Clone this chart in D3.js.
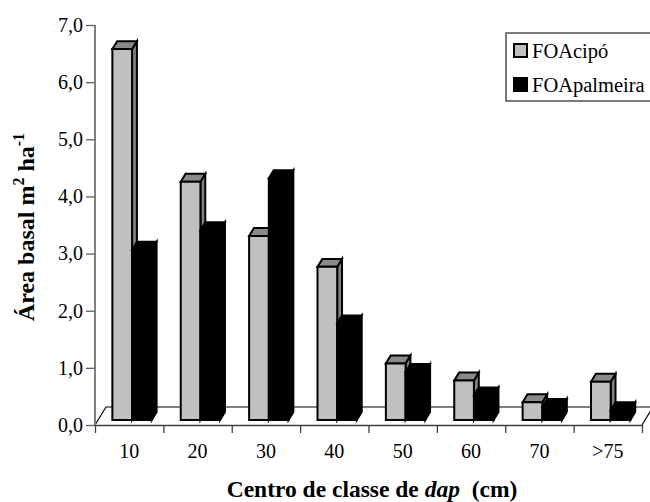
<!DOCTYPE html>
<html>
<head>
<meta charset="utf-8">
<script src="https://cdn.jsdelivr.net/npm/d3@7"></script>
<style>
  html, body { margin: 0; padding: 0; background: #fff; }
  svg { display: block; font-family: "Liberation Serif", "Times New Roman", serif; }
</style>
</head>
<body>
<svg id="chart" width="650" height="502"></svg>
<script>
// Centros de classe de DAP e área basal (m² ha⁻¹) por formação
const categories = ["10", "20", "30", "40", "50", "60", "70", ">75"];
const seriesNames = ["FOAcipó", "FOApalmeira"];
const foacipo = [6.49, 4.17, 3.22, 2.68, 0.99, 0.69, 0.31, 0.67];
const foapalmeira = [2.98, 3.32, 4.23, 1.69, 0.84, 0.43, 0.23, 0.17];
const yTicks = [0, 1, 2, 3, 4, 5, 6, 7];

const svg = d3.select("#chart");

// Plot frame (front plane of the floor) and oblique depth of the floor
const plotLeft = 95, plotRight = 642, plotTop = 25, plotBottom = 425;
const DX = 11, DY = 18;            // floor depth offset (x right, y up)
const zFront = 0.28, zBack = 0.72; // depth span occupied by the columns

const x = d3.scaleBand().domain(categories).range([plotLeft, plotRight]);
const y = d3.scaleLinear().domain([0, 7]).range([plotBottom, plotTop]);
const bw = x.bandwidth();

// project a point on the (x, value) plane at relative depth z
const P = (px, v, z) => [px + z * DX, y(v) - z * DY];

const locale = d3.formatLocale({ decimal: ",", thousands: ".", grouping: [3], currency: ["R$", ""] });
const fmt = locale.format(".1f");

// Floor outline
const floor = svg.append("g");
floor.append("path")
  .attr("d", d3.line()([P(plotLeft, 0, 0), P(plotLeft, 0, 1), P(plotRight, 0, 1), P(plotRight, 0, 0)]))
  .attr("fill", "none").attr("stroke", "#000").attr("stroke-width", 1.2);

// Columns
const series = [
  { name: seriesNames[0], values: foacipo, x0: 0.209, x1: 0.497, front: "#c0c0c0", topc: "#8a8a8a", side: "#808080" },
  { name: seriesNames[1], values: foapalmeira, x0: 0.497, x1: 0.785, front: "#000", topc: "#000", side: "#000" }
];

const line = d3.line();
const bars = svg.append("g").attr("stroke", "#000").attr("stroke-width", 2).attr("stroke-linejoin", "miter");

categories.forEach((c, i) => {
  series.forEach(s => {
    const v = s.values[i];
    const xl = x(c) + s.x0 * bw, xr = x(c) + s.x1 * bw;
    const g = bars.append("g");
    // right side face
    g.append("path").attr("fill", s.side)
      .attr("d", line([P(xr, 0, zFront), P(xr, 0, zBack), P(xr, v, zBack), P(xr, v, zFront)]) + "Z");
    // top face
    g.append("path").attr("fill", s.topc)
      .attr("d", line([P(xl, v, zFront), P(xl, v, zBack), P(xr, v, zBack), P(xr, v, zFront)]) + "Z");
    // front face
    g.append("path").attr("fill", s.front)
      .attr("d", line([P(xl, 0, zFront), P(xl, v, zFront), P(xr, v, zFront), P(xr, 0, zFront)]) + "Z");
  });
});

// Value axis
const yAxis = svg.append("g")
  .attr("transform", `translate(${plotLeft},0)`)
  .call(d3.axisLeft(y).tickValues(yTicks).tickFormat(fmt).tickSize(9).tickPadding(3));
yAxis.select(".domain").attr("stroke", "#808080").attr("stroke-width", 2).attr("d", `M0,${plotTop}V${plotBottom}`);
yAxis.selectAll(".tick line").attr("stroke", "#606060").attr("stroke-width", 1.3);
yAxis.selectAll(".tick text")
  .attr("font-family", "Liberation Serif, Times New Roman, serif")
  .attr("font-size", 20).attr("fill", "#000");

// Category axis: boundary ticks and centred labels
const xIdx = d3.scaleLinear().domain([0, categories.length]).range([plotLeft, plotRight]);
const xAxisG = svg.append("g").attr("transform", `translate(0,${plotBottom})`);
xAxisG.call(d3.axisBottom(xIdx).tickValues(d3.range(0, categories.length + 1)).tickFormat("").tickSize(8).tickSizeOuter(0));
xAxisG.select(".domain").attr("stroke", "#404040").attr("stroke-width", 1.6);
xAxisG.selectAll(".tick line").attr("stroke", "#404040").attr("stroke-width", 1.3);

const xLabels = svg.append("g").attr("transform", `translate(0,${plotBottom})`);
xLabels.call(d3.axisBottom(x).tickSize(0).tickPadding(19));
xLabels.select(".domain").remove();
xLabels.selectAll(".tick text")
  .attr("font-family", "Liberation Serif, Times New Roman, serif")
  .attr("font-size", 20).attr("fill", "#000");

// Axis titles
const yTitle = svg.append("text")
  .attr("transform", "translate(34,227) rotate(-90)")
  .attr("text-anchor", "middle")
  .attr("font-weight", "bold").attr("font-size", 24);
yTitle.append("tspan").text("Área basal m");
yTitle.append("tspan").attr("font-size", 16).attr("dy", -10).text("2");
yTitle.append("tspan").attr("dy", 10).text(" ha");
yTitle.append("tspan").attr("font-size", 16).attr("dy", -10).text("-1");

const xTitle = svg.append("text")
  .attr("x", 372).attr("y", 497)
  .attr("text-anchor", "middle")
  .attr("font-weight", "bold").attr("font-size", 23.5)
  .attr("xml:space", "preserve");
xTitle.append("tspan").text("Centro de classe de ");
xTitle.append("tspan").attr("font-style", "italic").text("dap");
xTitle.append("tspan").text("  (cm)");

// Legend
const legend = svg.append("g");
legend.append("rect")
  .attr("x", 506).attr("y", 33).attr("width", 160).attr("height", 68)
  .attr("fill", "#fff").attr("stroke", "#333").attr("stroke-width", 1.3);
series.forEach((s, i) => {
  const ly = 44 + i * 34;
  legend.append("rect")
    .attr("x", 514).attr("y", ly).attr("width", 13).attr("height", 13)
    .attr("fill", s.front).attr("stroke", "#000").attr("stroke-width", 2);
  legend.append("text")
    .attr("x", 532).attr("y", ly + 14)
    .attr("font-size", 20.5).text(s.name);
});
</script>
</body>
</html>
